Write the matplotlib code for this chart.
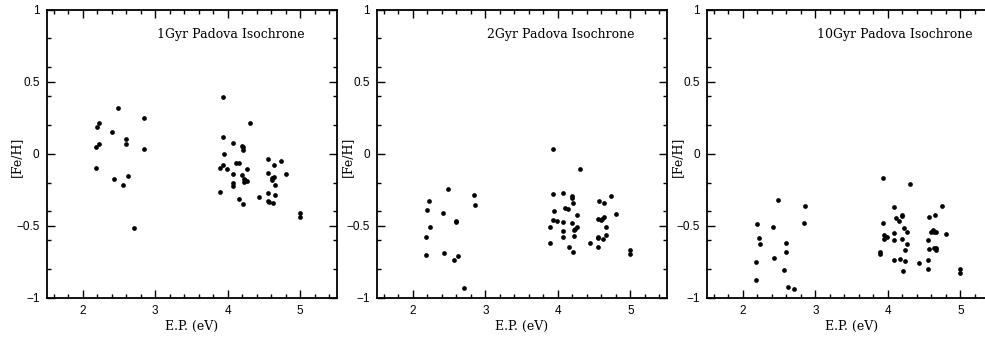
import matplotlib
matplotlib.use("Agg")
import matplotlib.pyplot as plt
from matplotlib.ticker import MultipleLocator

# E.P. (eV) and [Fe/H]
ep_1gyr = [2.18, 2.18, 2.20, 2.22, 2.23, 2.41, 2.43, 2.48, 2.56, 2.59, 2.59, 2.62, 2.70, 2.84, 2.85,
           3.93, 4.30, 3.93, 4.075, 4.19, 4.21, 4.21, 3.95, 3.89, 3.94, 3.99, 4.11, 4.15, 4.26,
           4.075, 4.195, 4.22, 4.24, 4.26, 4.22, 4.075, 4.075, 3.89, 4.16, 4.21,
           4.56, 4.73, 4.64, 4.55, 4.80, 4.64, 4.61, 4.61, 4.655, 4.43, 4.55, 4.655,
           4.55, 4.57, 4.62, 5.0, 5.0]
feh_1gyr = [-0.097, 0.05, 0.187, 0.21, 0.067, 0.154, -0.173, 0.318, -0.217, 0.10, 0.071, -0.157, -0.516, 0.247, 0.035,
            0.396, 0.212, 0.117, 0.074, 0.057, 0.044, 0.025, 0.0, -0.097, -0.081, -0.104, -0.067, -0.067, -0.108,
            -0.141, -0.145, -0.173, -0.18, -0.187, -0.196, -0.20, -0.226, -0.267, -0.313, -0.346,
            -0.035, -0.048, -0.076, -0.134, -0.141, -0.161, -0.168, -0.184, -0.214, -0.297, -0.27, -0.288,
            -0.327, -0.334, -0.343, -0.41, -0.44]

ep_2gyr = [2.18, 2.18, 2.20, 2.22, 2.23, 2.41, 2.43, 2.48, 2.56, 2.59, 2.59, 2.62, 2.70, 2.84, 2.85,
           3.93, 4.30, 3.93, 4.075, 4.19, 4.19, 4.21, 3.94, 4.10, 4.14, 4.26, 3.93, 3.99, 4.075,
           4.19, 3.89, 4.26, 4.24, 4.22, 4.075, 4.22, 4.075, 3.89, 4.15, 4.21,
           4.56, 4.73, 4.64, 4.80, 4.55, 4.61, 4.64, 4.60, 4.66, 4.44, 4.55, 4.66,
           4.55, 4.55, 4.62, 5.0, 5.0]
feh_2gyr = [-0.574, -0.70, -0.392, -0.325, -0.509, -0.41, -0.687, -0.242, -0.74, -0.463, -0.472, -0.71, -0.933, -0.283, -0.353,
            0.03, -0.108, -0.279, -0.27, -0.293, -0.304, -0.343, -0.399, -0.378, -0.382, -0.428, -0.458, -0.463, -0.472,
            -0.482, -0.507, -0.507, -0.52, -0.527, -0.537, -0.567, -0.58, -0.62, -0.643, -0.682,
            -0.325, -0.295, -0.339, -0.419, -0.451, -0.449, -0.44, -0.461, -0.511, -0.62, -0.576, -0.564,
            -0.585, -0.645, -0.592, -0.666, -0.696]

ep_10gyr = [2.18, 2.18, 2.20, 2.22, 2.23, 2.41, 2.43, 2.48, 2.56, 2.59, 2.59, 2.62, 2.70, 2.84, 2.85,
            3.93, 4.305, 4.08, 4.74, 4.19, 4.20, 4.11, 4.15, 3.93, 4.65, 4.57, 4.22, 4.08, 4.26,
            3.94, 3.98, 3.94, 4.08, 4.195, 4.26, 4.23, 3.89, 3.89, 4.08, 4.16, 4.23, 4.21,
            4.62, 4.64, 4.66, 4.60, 4.80, 4.55, 4.56, 4.63, 4.66, 4.66, 4.55, 4.43, 4.55, 5.0, 5.0]
feh_10gyr = [-0.751, -0.873, -0.486, -0.583, -0.624, -0.505, -0.724, -0.318, -0.806, -0.62, -0.68, -0.922, -0.935, -0.482, -0.364,
             -0.168, -0.212, -0.369, -0.364, -0.422, -0.43, -0.442, -0.468, -0.477, -0.422, -0.44, -0.518, -0.551, -0.541,
             -0.562, -0.58, -0.59, -0.596, -0.59, -0.624, -0.67, -0.684, -0.698, -0.737, -0.728, -0.744, -0.811,
             -0.53, -0.539, -0.541, -0.539, -0.553, -0.599, -0.663, -0.652, -0.654, -0.666, -0.737, -0.76, -0.797, -0.797, -0.829]

panels = [
    ("1Gyr Padova Isochrone", ep_1gyr, feh_1gyr),
    ("2Gyr Padova Isochrone", ep_2gyr, feh_2gyr),
    ("10Gyr Padova Isochrone", ep_10gyr, feh_10gyr),
]

fig = plt.figure(figsize=(9.85, 3.37), dpi=100)
lefts = [46.5, 376.7, 706.7]

for left, (titel, ep, feh) in zip(lefts, panels):
    ax = fig.add_axes([left / 985, 39 / 337, 290 / 985, 288.5 / 337])
    ax.plot(ep, feh, "o", color="black", markersize=3.4, markeredgewidth=0)

    ax.set_xlim(1.5, 5.5)
    ax.set_ylim(-1, 1)
    ax.xaxis.set_minor_locator(MultipleLocator(0.2))
    ax.yaxis.set_minor_locator(MultipleLocator(0.2))
    ax.set_xticks([2, 3, 4, 5])
    ax.set_yticks([-1, -0.5, 0, 0.5, 1])
    ax.set_yticklabels(["\u22121", "\u22120.5", "0", "0.5", "1"])

    ax.tick_params(which="both", direction="in", top=True, right=True, width=1.0)
    ax.tick_params(which="major", length=6, pad=5, labelsize=8.5)
    ax.tick_params(which="minor", length=3)
    for lab in ax.get_xticklabels() + ax.get_yticklabels():
        lab.set_family("Liberation Sans")
    for sp in ax.spines.values():
        sp.set_linewidth(1.3)

    ax.set_xlabel("E.P. (eV)", family="DejaVu Serif", fontsize=9)
    ax.set_ylabel("[Fe/H]", family="DejaVu Serif", fontsize=9)
    ax.xaxis.set_label_coords(0.5, -0.075)
    ax.yaxis.set_label_coords(-0.08, 0.49)

    ax.text(0.38, 0.915, titel, transform=ax.transAxes, ha="left", va="center",
            family="DejaVu Serif", fontsize=9)

fig.savefig("out.png", dpi=100)
